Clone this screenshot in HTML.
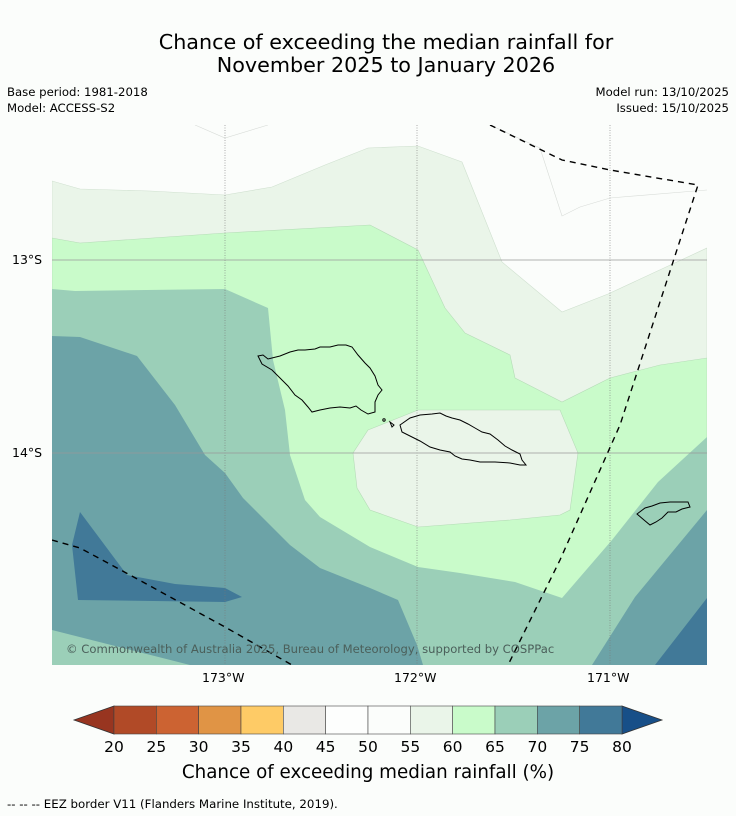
<!DOCTYPE html>
<html><head><meta charset="utf-8"><style>
body{margin:0;background:#fbfdfb;font-family:"DejaVu Sans",sans-serif;}
#root{position:relative;width:736px;height:816px;overflow:hidden;background:#fbfdfb;}
.t{position:absolute;color:#000;white-space:nowrap;}
</style></head><body>
<div id="root">
<div class="t" style="left:0;width:772px;top:31px;text-align:center;font-size:20.7px;line-height:23px;">Chance of exceeding the median rainfall for<br>November 2025 to January 2026</div>
<div class="t" style="left:7px;top:84px;font-size:11.7px;line-height:16px;">Base period: 1981-2018<br>Model: ACCESS-S2</div>
<div class="t" style="right:7px;top:84px;font-size:11.7px;line-height:16px;text-align:right;">Model run: 13/10/2025<br>Issued: 15/10/2025</div>
<div class="t" style="left:12px;top:252px;font-size:12.5px;">13°S</div>
<div class="t" style="left:12px;top:445px;font-size:12.5px;">14°S</div>
<div class="t" style="left:202px;top:670px;font-size:12.5px;">173°W</div>
<div class="t" style="left:394px;top:670px;font-size:12.5px;">172°W</div>
<div class="t" style="left:587px;top:670px;font-size:12.5px;">171°W</div>
<svg width="736" height="816" style="position:absolute;left:0;top:0">
<g>
<clipPath id="mc"><rect x="52" y="125" width="655" height="540"/></clipPath>
<g clip-path="url(#mc)">
<rect x="52" y="125" width="655" height="540" fill="#fbfdfb"/>
<polygon fill="#eaf5e9" stroke="#cfe0cf" stroke-width="0.6" points="52,181 80,189 150,191 225,195 272,187 325,165 368,148 418,146 462,162 502,262 562,312 608,294 707,248 707,665 52,665"/>
<polyline fill="none" stroke="#d8dcd8" stroke-width="0.6" points="490,125 540,148 562,216 580,207 610,198 707,190"/>
<polyline fill="none" stroke="#d8dcd8" stroke-width="0.6" points="195,125 225,138 268,125"/>
<polygon fill="#c9fbca" stroke="#b5dcb7" stroke-width="0.6" points="52,238 80,243 225,233 370,225 418,250 445,308 465,333 510,355 515,378 562,402 610,378 660,365 707,358 707,665 52,665"/>
<polygon fill="#eaf5e9" stroke="#b5dcb7" stroke-width="0.6" points="368,430 418,410 560,410 578,453 570,510 560,515 510,520 418,527 370,510 357,488 353,453"/>
<polygon fill="#9bcfb8" points="52,289 75,291 225,289 268,308 273,360 285,410 290,455 305,500 320,517 370,547 418,567 460,573 515,582 562,598 612,540 658,482 707,437 707,665 52,665"/>
<polygon fill="#6ca3a7" points="52,336 80,337 137,356 175,405 205,455 225,473 243,498 290,545 320,568 370,588 398,600 417,645 423,665 190,665 52,630"/>
<polygon fill="#6ca3a7" points="592,665 635,597 707,510 707,665"/>
<polygon fill="#417998" points="80,512 72,545 78,600 225,602 242,597 225,588 175,584 127,575"/>
<polygon fill="#417998" points="655,665 707,598 707,665"/>
<g stroke="#777" stroke-width="0.6" stroke-dasharray="1,1.5">
<line x1="225" y1="125" x2="225" y2="665"/><line x1="417" y1="125" x2="417" y2="665"/><line x1="610" y1="125" x2="610" y2="665"/></g>
<g stroke="#999" stroke-width="0.8">
<line x1="52" y1="260" x2="707" y2="260"/><line x1="52" y1="453" x2="707" y2="453"/></g>
<g fill="none" stroke="#000" stroke-width="1">
<path d="M258,356 L263,355 L268,359 L280,356 L290,352 L298,350 L305,350 L315,349 L320,347 L330,347 L338,345 L346,345 L352,347 L358,355 L365,363 L370,368 L375,376 L378,385 L382,390 L378,395 L375,402 L375,412 L368,414 L361,410 L356,406 L350,408 L340,407 L330,408 L320,410 L312,412 L308,407 L302,400 L295,395 L288,386 L280,378 L272,370 L262,364 Z"/>
<path d="M400,425 L410,418 L420,415 L432,414 L440,413 L446,416 L452,418 L460,420 L468,424 L475,428 L482,432 L490,434 L498,440 L505,446 L512,450 L520,454 L522,460 L526,465 L520,465 L510,463 L495,462 L480,462 L470,460 L462,459 L455,456 L450,452 L440,450 L430,447 L420,441 L412,437 L402,432 Z"/>
<circle cx="384" cy="420" r="1.2"/><path d="M390,422 L394,425 L392,427 Z"/>
<path d="M637,514 L645,508 L652,506 L660,503 L670,502 L680,502 L688,502 L690,507 L682,509 L676,512 L668,512 L662,518 L656,522 L650,525 L644,520 Z"/>
</g>
<g fill="none" stroke="#000" stroke-width="1.4" stroke-dasharray="6,5">
<polyline points="490,125 562,160 610,170 698,185 620,425 560,560 508,665"/>
<polyline points="52,540 80,548 130,575 225,627 292,665"/>
</g>
</g>
<text x="66" y="653" font-size="11.6" fill="#4b5f5a" font-family="DejaVu Sans, sans-serif">© Commonwealth of Australia 2025, Bureau of Meteorology, supported by COSPPac</text>
</g>
<g id="cbar"></g>
<text x="368" y="778" text-anchor="middle" font-size="18.3" font-family="DejaVu Sans, sans-serif">Chance of exceeding median rainfall (%)</text>
<text x="7" y="808" font-size="11.8" font-family="DejaVu Sans, sans-serif">--  --  -- EEZ border V11 (Flanders Marine Institute, 2019).</text>
</svg>
</div>
<script>
const levels=[20,25,30,35,40,45,50,55,60,65,70,75,80];
const colors=["#b14a27","#cc6332","#e09445","#fecb66","#e9e8e5","#fdfefd","#fbfdfb","#eaf5e9","#c9fbca","#9bcfb8","#6ca3a7","#417998"];
const underColor="#983520", overColor="#174f88";
const g=document.getElementById('cbar');const NS="http://www.w3.org/2000/svg";
const x0=114,x1=622,y0=706,y1=734;
function xs(v){return x0+(v-levels[0])/(levels[levels.length-1]-levels[0])*(x1-x0);}
function mk(t,a){const e=document.createElementNS(NS,t);for(const k in a)e.setAttribute(k,a[k]);g.appendChild(e);return e;}
let p=mk('polygon',{points:`${x0},${y0} 74,${(y0+y1)/2} ${x0},${y1}`,fill:underColor,stroke:'#333','stroke-width':0.8});


p=mk('polygon',{points:`${x1},${y0} 662,${(y0+y1)/2} ${x1},${y1}`,fill:overColor,stroke:'#333','stroke-width':0.8});


for(let i=0;i<colors.length;i++){
 const r=mk('rect',{x:xs(levels[i]),y:y0,width:xs(levels[i+1])-xs(levels[i]),height:y1-y0,fill:colors[i],stroke:'#444','stroke-width':0.6});
 
 
}
levels.forEach(v=>{
 const t=mk('text',{x:xs(v),y:752,'text-anchor':'middle','font-size':15.5,'font-family':'DejaVu Sans, sans-serif'});
 t.textContent=v;
 
 
});
</script>
</body></html>
